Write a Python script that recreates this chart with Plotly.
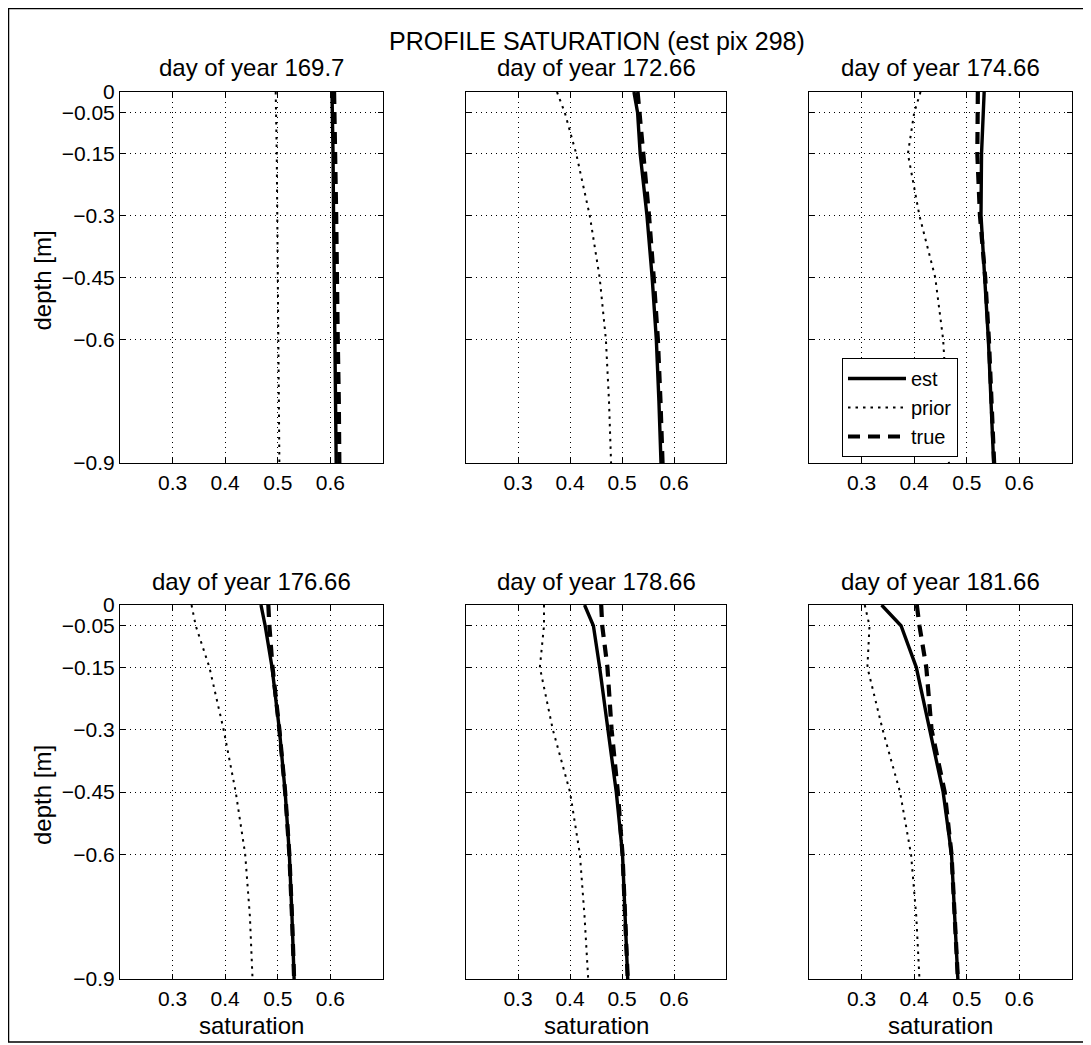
import plotly.graph_objects as go

W, H = 1091, 1045

titles = ["day of year 169.7", "day of year 172.66", "day of year 174.66",
          "day of year 176.66", "day of year 178.66", "day of year 181.66"]

depth = [0, -0.05, -0.15, -0.3, -0.45, -0.6, -0.75, -0.9]

est1 = [0.603, 0.604, 0.605, 0.606, 0.607, 0.608, 0.610, 0.611]
prior1 = [0.496, 0.497, 0.498, 0.499, 0.500, 0.501, 0.502, 0.503]
true1 = [0.607, 0.608, 0.609, 0.611, 0.612, 0.614, 0.616, 0.617]

est2 = [0.523, 0.530, 0.535, 0.548, 0.558, 0.566, 0.571, 0.575]
prior2 = [0.375, 0.390, 0.412, 0.438, 0.457, 0.469, 0.475, 0.479]
true2 = [0.530, 0.534, 0.540, 0.552, 0.561, 0.569, 0.574, 0.578]

est3 = [0.533, 0.531, 0.528, 0.527, 0.534, 0.541, 0.546, 0.551]
prior3 = [0.412, 0.400, 0.388, 0.410, 0.440, 0.455, 0.462, 0.466]
true3 = [0.521, 0.521, 0.520, 0.525, 0.535, 0.542, 0.547, 0.552]

est4 = [0.468, 0.476, 0.489, 0.503, 0.514, 0.522, 0.527, 0.531]
prior4 = [0.336, 0.344, 0.370, 0.397, 0.420, 0.438, 0.447, 0.452]
true4 = [0.482, 0.484, 0.490, 0.503, 0.514, 0.522, 0.527, 0.531]

est5 = [0.428, 0.445, 0.457, 0.473, 0.489, 0.501, 0.506, 0.511]
prior5 = [0.350, 0.350, 0.342, 0.367, 0.400, 0.419, 0.428, 0.435]
true5 = [0.460, 0.462, 0.472, 0.480, 0.492, 0.501, 0.506, 0.511]

est6 = [0.338, 0.375, 0.404, 0.429, 0.455, 0.471, 0.477, 0.483]
prior6 = [0.306, 0.315, 0.311, 0.340, 0.373, 0.394, 0.404, 0.410]
true6 = [0.405, 0.410, 0.423, 0.433, 0.458, 0.471, 0.477, 0.483]

est_all = [est1, est2, est3, est4, est5, est6]
prior_all = [prior1, prior2, prior3, prior4, prior5, prior6]
true_all = [true1, true2, true3, true4, true5, true6]

xtick_vals = [0.3, 0.4, 0.5, 0.6]
xtick_text = ["0.3", "0.4", "0.5", "0.6"]
ytick_vals = [0, -0.05, -0.15, -0.3, -0.45, -0.6, -0.9]
ytick_text = ["0", "\u22120.05", "\u22120.15", "\u22120.3", "\u22120.45", "\u22120.6", "\u22120.9"]

FONT = "Liberation Sans, Arial, Helvetica, sans-serif"

# pixel geometry (page pixels; the page body has an 8px margin)
OFF = 8
cols = [(120, 383), (466, 726), (809, 1072)]
rows = [(92, 463), (605, 979)]

def px(x):
    return (x - OFF) / W

def py(y):
    return 1 - (y - OFF) / H

fig = go.Figure()
layout = {}
annotations = []
for i in range(6):
    r, c = divmod(i, 3)
    n = i + 1
    xa = "x" if n == 1 else f"x{n}"
    ya = "y" if n == 1 else f"y{n}"
    show = (i == 2)
    fig.add_trace(go.Scatter(x=est_all[i], y=depth, xaxis=xa, yaxis=ya, mode="lines",
                             name="est", showlegend=show, legendrank=1,
                             line=dict(color="black", width=3.4)))
    fig.add_trace(go.Scatter(x=prior_all[i], y=depth, xaxis=xa, yaxis=ya, mode="lines",
                             name="prior", showlegend=show, legendrank=2,
                             line=dict(color="black", width=2, dash="2.5px,5px")))
    fig.add_trace(go.Scatter(x=true_all[i], y=depth, xaxis=xa, yaxis=ya, mode="lines",
                             name="true", showlegend=show, legendrank=3,
                             line=dict(color="black", width=4.2, dash="12px,8px")))
    x0, x1 = cols[c]
    y0, y1 = rows[r]
    kx = "xaxis" if n == 1 else f"xaxis{n}"
    ky = "yaxis" if n == 1 else f"yaxis{n}"
    layout[kx] = dict(domain=[px(x0), px(x1)], range=[0.2, 0.7], anchor=ya,
                      tickvals=xtick_vals, ticktext=xtick_text,
                      ticks="inside", ticklen=5, tickcolor="black",
                      showline=True, linecolor="black", linewidth=1, mirror="ticks",
                      showgrid=True, gridcolor="black", gridwidth=1, griddash="1px,4px",
                      zeroline=False, tickfont=dict(size=21, color="black", family=FONT),
                      ticklabelstandoff=1, fixedrange=True)
    layout[ky] = dict(domain=[py(y1), py(y0)], range=[-0.9, 0], anchor=xa,
                      tickvals=ytick_vals, ticktext=ytick_text if c == 0 else [""] * 7,
                      showticklabels=(c == 0),
                      ticks="inside", ticklen=5, tickcolor="black",
                      showline=True, linecolor="black", linewidth=1, mirror="ticks",
                      showgrid=True, gridcolor="black", gridwidth=1, griddash="1px,4px",
                      zeroline=False, tickfont=dict(size=21, color="black", family=FONT),
                      fixedrange=True)
    # subplot title
    annotations.append(dict(text=titles[i], x=px((x0 + x1) / 2), y=py(y0 - 24),
                            xref="paper", yref="paper", showarrow=False,
                            xanchor="center", yanchor="middle",
                            font=dict(size=24, color="black", family=FONT)))
    if c == 0:
        annotations.append(dict(text="depth [m]", x=px(42), y=py((y0 + y1) / 2 + 3),
                                xref="paper", yref="paper", showarrow=False, textangle=-90,
                                xanchor="center", yanchor="middle",
                                font=dict(size=24, color="black", family=FONT)))
    if r == 1:
        annotations.append(dict(text="saturation", x=px((x0 + x1) / 2), y=py(1025),
                                xref="paper", yref="paper", showarrow=False,
                                xanchor="center", yanchor="middle",
                                font=dict(size=24, color="black", family=FONT)))

annotations.append(dict(text="PROFILE SATURATION (est pix 298)", x=px(597), y=py(41),
                        xref="paper", yref="paper", showarrow=False,
                        xanchor="center", yanchor="middle",
                        font=dict(size=25, color="black", family=FONT)))

fig.update_layout(**layout)
fig.update_layout(
    width=W, height=H,
    margin=dict(l=0, r=0, t=0, b=0, autoexpand=False),
    paper_bgcolor="white", plot_bgcolor="white",
    font=dict(family=FONT, color="black"),
    annotations=annotations,
    showlegend=True,
    legend=dict(x=px(842), y=py(358), xanchor="left", yanchor="top",
                bgcolor="white", bordercolor="black", borderwidth=1,
                font=dict(size=20, color="black", family=FONT),
                tracegroupgap=0, itemwidth=58),
    shapes=[dict(type="rect", xref="paper", yref="paper",
                 x0=px(8.5), x1=px(1086), y0=py(1042), y1=py(8.5),
                 line=dict(color="black", width=1.5))],
)

fig.write_html("out.html")
